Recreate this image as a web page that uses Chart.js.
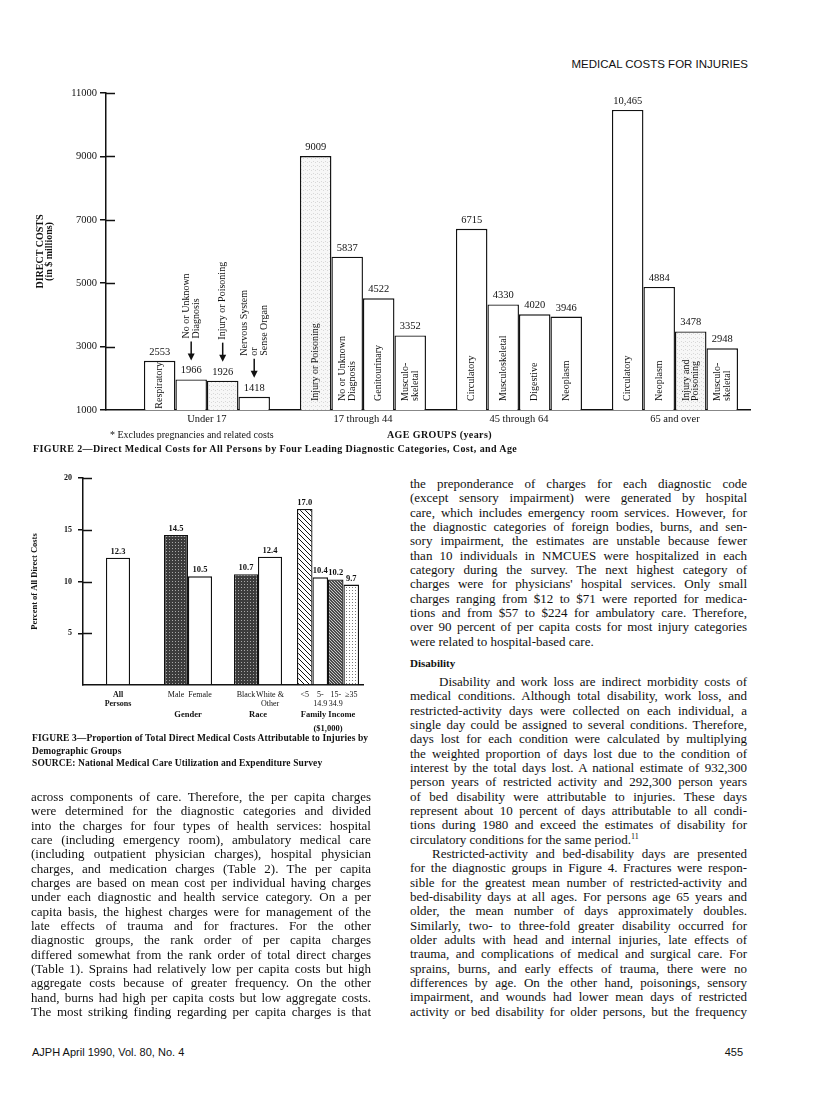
<!DOCTYPE html>
<html>
<head>
<meta charset="utf-8">
<title>Medical Costs for Injuries</title>
<script src="https://cdn.jsdelivr.net/npm/chart.js@4.4.1/dist/chart.umd.min.js"></script>
<style>
    body { margin: 0; width: 816px; height: 1116px; position: relative; overflow: hidden; background: #fff; color: #111; font-family: "Liberation Serif", "Times New Roman", serif; }
    canvas { position: absolute; }
    .abs { position: absolute; white-space: nowrap; }
    .sans { font-family: "Liberation Sans", Arial, sans-serif; }
    .col { position: absolute; font-size: 13px; line-height: 14.33px; }
    .col div { text-align: justify; text-align-last: justify; }
    .col div.end { text-align-last: left; }
    .cap { font-weight: bold; font-size: 9.5px; line-height: 12.5px; letter-spacing: 0.1px; }
    sup { font-size: 8px; line-height: 0; }
</style>
</head>
<body>

<div class="abs sans" style="right:68px; top:58px; font-size:11.5px;">MEDICAL COSTS FOR INJURIES</div>

<canvas id="fig2" width="780" height="380" style="left:0; top:60px; width:780px; height:380px;"></canvas>

<div class="abs" style="left:110px; top:429px; font-size:10px;">* Excludes pregnancies and related costs</div>
<div class="abs" style="left:387px; top:429px; font-size:10px; font-weight:bold; letter-spacing:0.4px;">AGE GROUPS (years)</div>
<div class="abs" style="left:33px; top:443px; font-size:10px; font-weight:bold; letter-spacing:0.4px;">FIGURE 2—Direct Medical Costs for All Persons by Four Leading Diagnostic Categories, Cost, and Age</div>

<canvas id="fig3" width="380" height="280" style="left:0; top:460px; width:380px; height:280px;"></canvas>

<div class="abs cap" style="left:32px; top:732px;">
    FIGURE 3—Proportion of Total Direct Medical Costs Attributable to Injuries by<br>
    Demographic Groups<br>
    SOURCE: National Medical Care Utilization and Expenditure Survey
</div>

<!-- left column -->
<div class="col" style="left:31px; top:790px; width:340px;">
    <div>across components of care. Therefore, the per capita charges</div>
    <div>were determined for the diagnostic categories and divided</div>
    <div>into the charges for four types of health services: hospital</div>
    <div>care (including emergency room), ambulatory medical care</div>
    <div>(including outpatient physician charges), hospital physician</div>
    <div>charges, and medication charges (Table 2). The per capita</div>
    <div>charges are based on mean cost per individual having charges</div>
    <div>under each diagnostic and health service category. On a per</div>
    <div>capita basis, the highest charges were for management of the</div>
    <div>late effects of trauma and for fractures. For the other</div>
    <div>diagnostic groups, the rank order of per capita charges</div>
    <div>differed somewhat from the rank order of total direct charges</div>
    <div>(Table 1). Sprains had relatively low per capita costs but high</div>
    <div>aggregate costs because of greater frequency. On the other</div>
    <div>hand, burns had high per capita costs but low aggregate costs.</div>
    <div>The most striking finding regarding per capita charges is that</div>
</div>

<!-- right column -->
<div class="col" style="left:410px; top:477px; width:337px;">
    <div>the preponderance of charges for each diagnostic code</div>
    <div>(except sensory impairment) were generated by hospital</div>
    <div>care, which includes emergency room services. However, for</div>
    <div>the diagnostic categories of foreign bodies, burns, and sen-</div>
    <div>sory impairment, the estimates are unstable because fewer</div>
    <div>than 10 individuals in NMCUES were hospitalized in each</div>
    <div>category during the survey. The next highest category of</div>
    <div>charges were for physicians' hospital services. Only small</div>
    <div>charges ranging from $12 to $71 were reported for medica-</div>
    <div>tions and from $57 to $224 for ambulatory care. Therefore,</div>
    <div>over 90 percent of per capita costs for most injury categories</div>
    <div class="end">were related to hospital-based care.</div>
</div>

<div class="abs" style="left:410px; top:657px; font-size:11px; font-weight:bold;">Disability</div>

<div class="col" style="left:410px; top:675px; width:337px;">
    <div style="text-indent:29px;">Disability and work loss are indirect morbidity costs of</div>
    <div>medical conditions. Although total disability, work loss, and</div>
    <div>restricted-activity days were collected on each individual, a</div>
    <div>single day could be assigned to several conditions. Therefore,</div>
    <div>days lost for each condition were calculated by multiplying</div>
    <div>the weighted proportion of days lost due to the condition of</div>
    <div>interest by the total days lost. A national estimate of 932,300</div>
    <div>person years of restricted activity and 292,300 person years</div>
    <div>of bed disability were attributable to injuries. These days</div>
    <div>represent about 10 percent of days attributable to all condi-</div>
    <div>tions during 1980 and exceed the estimates of disability for</div>
    <div class="end">circulatory conditions for the same period.<sup>11</sup></div>
    <div style="text-indent:22px;">Restricted-activity and bed-disability days are presented</div>
    <div>for the diagnostic groups in Figure 4. Fractures were respon-</div>
    <div>sible for the greatest mean number of restricted-activity and</div>
    <div>bed-disability days at all ages. For persons age 65 years and</div>
    <div>older, the mean number of days approximately doubles.</div>
    <div>Similarly, two- to three-fold greater disability occurred for</div>
    <div>older adults with head and internal injuries, late effects of</div>
    <div>trauma, and complications of medical and surgical care. For</div>
    <div>sprains, burns, and early effects of trauma, there were no</div>
    <div>differences by age. On the other hand, poisonings, sensory</div>
    <div>impairment, and wounds had lower mean days of restricted</div>
    <div>activity or bed disability for older persons, but the frequency</div>
</div>

<div class="abs sans" style="left:32px; top:1046px; font-size:11px;">AJPH April 1990, Vol. 80, No. 4</div>
<div class="abs sans" style="right:73px; top:1046px; font-size:11px;">455</div>

<script>
// Figure 2 - direct costs (in $ millions) by age group, four leading diagnoses
const ageGroups = ['Under 17', '17 through 44', '45 through 64', '65 and over'];
const costUnder17 = [2553, 1966, 1926, 1418];
const cost17to44 = [9009, 5837, 4522, 3352];
const cost45to64 = [6715, 4330, 4020, 3946];
const cost65plus = [10465, 4884, 3478, 2948];
const dxUnder17 = ['Respiratory', ['No or Unknown', 'Diagnosis'], 'Injury or Poisoning', ['Nervous System', 'or', 'Sense Organ']];
const dx17to44 = ['Injury or Poisoning', ['No or Unknown', 'Diagnosis'], 'Genitourinary', ['Musculo-', 'skeletal']];
const dx45to64 = ['Circulatory', 'Musculoskeletal', 'Digestive', 'Neoplasm'];
const dx65plus = ['Circulatory', 'Neoplasm', ['Injury and', 'Poisoning'], ['Musculo-', 'skeletal']];
const costTicks = [1000, 3000, 5000, 7000, 9000, 11000];

// Figure 3 - percent of all direct costs attributable to injuries
const demoGroups = ['', 'Gender', 'Race', ['Family Income', '($1,000)']];
const allPersonsLabels = [['All', 'Persons']];
const allPersonsValues = [12.3];
const genderLabels = ['Male', 'Female'];
const genderValues = [14.5, 10.5];
const raceLabels = ['Black', ['White &', 'Other']];
const raceValues = [10.7, 12.4];
const incomeLabels = ['<5', ['5-', '14.9'], ['15-', '34.9'], '≥35'];
const incomeValues = [17.0, 10.4, 10.2, 9.7];
const percentTicks = [0, 5, 10, 15, 20];

const SERIF = '"Liberation Serif", "Times New Roman", serif';
const INK = '#111';
Chart.defaults.font.family = SERIF;
Chart.defaults.color = INK;

const costs = [costUnder17, cost17to44, cost45to64, cost65plus];
const diagnoses = [dxUnder17, dx17to44, dx45to64, dx65plus];

function makePattern(size, draw) {
    const c = document.createElement('canvas');
    c.width = c.height = size;
    const x = c.getContext('2d');
    draw(x, size);
    return x.createPattern(c, 'repeat');
}

const stipple = makePattern(4, (x, s) => {
    x.fillStyle = '#f7f7f7'; x.fillRect(0, 0, s, s);
    x.fillStyle = '#d8d8d8'; x.fillRect(1, 1, 1, 1); x.fillRect(3, 2, 1, 1);
});
const darkCross = makePattern(3, (x, s) => {
    x.fillStyle = '#3c3c3c'; x.fillRect(0, 0, s, s);
    x.fillStyle = '#a8a8a8'; x.fillRect(1, 1, 1, 1);
});
const openHatch = makePattern(5, (x, s) => {
    x.fillStyle = '#fff'; x.fillRect(0, 0, s, s);
    x.fillStyle = '#111';
    for (let i = 0; i < s; i++) x.fillRect(i, i, 1, 1);
});
const denseHatch = makePattern(3, (x, s) => {
    x.fillStyle = '#4a4a4a'; x.fillRect(0, 0, s, s);
    x.fillStyle = '#c8c8c8';
    for (let i = 0; i < s; i++) x.fillRect(i, i, 1, 1);
});
const lightDots = makePattern(3, (x, s) => {
    x.fillStyle = '#fff'; x.fillRect(0, 0, s, s);
    x.fillStyle = '#777'; x.fillRect(1, 1, 1, 1);
});

// short tick marks that cross into the plot, like the printed axes
const innerTicks = {
    id: 'innerTicks',
    afterDatasetsDraw(chart, args, opts) {
        const y = chart.scales.y, area = chart.chartArea, ctx = chart.ctx;
        ctx.save();
        ctx.strokeStyle = INK;
        ctx.lineWidth = 1.5;
        y.ticks.forEach(t => {
            if (t.value === y.min) return;
            const py = Math.round(y.getPixelForValue(t.value)) + 0.5;
            ctx.beginPath();
            ctx.moveTo(area.left, py);
            ctx.lineTo(area.left + opts.length, py);
            ctx.stroke();
        });
        ctx.restore();
    }
};

function drawRotated(ctx, lines, x, y, lh) {
    ctx.save();
    ctx.translate(x, y);
    ctx.rotate(-Math.PI / 2);
    ctx.textAlign = 'left';
    ctx.textBaseline = 'middle';
    lines.forEach((l, i) => ctx.fillText(l, 0, (i - (lines.length - 1) / 2) * lh));
    ctx.restore();
}

// value on top of each bar, diagnosis written up the bar (or above it with an arrow)
const costNotes = {
    id: 'costNotes',
    afterDatasetsDraw(chart) {
        const ctx = chart.ctx;
        const floor = chart.chartArea.bottom;
        ctx.save();
        ctx.fillStyle = INK;
        ctx.strokeStyle = INK;
        chart.data.datasets.forEach((ds, rank) => {
            chart.getDatasetMeta(rank).data.forEach((bar, g) => {
                const value = costs[g][rank];
                const lines = [].concat(diagnoses[g][rank]);
                ctx.font = '10.5px ' + SERIF;
                ctx.textAlign = 'center';
                ctx.textBaseline = 'alphabetic';
                ctx.fillText(value >= 10000 ? value.toLocaleString('en-US') : String(value), bar.x, bar.y - 6);

                ctx.font = '10px ' + SERIF;
                const w = Math.max(...lines.map(l => ctx.measureText(l).width));
                const base = Math.min(bar.base, floor);
                const h = base - bar.y;
                if (w + 1 < h) {
                    drawRotated(ctx, lines, bar.x, base - Math.min(9, (h - w) / 2), 9.5);
                } else {
                    const tip = bar.y - 19;
                    const top = tip - 19;
                    ctx.lineWidth = 1.5;
                    ctx.beginPath();
                    ctx.moveTo(bar.x, top);
                    ctx.lineTo(bar.x, tip - 5);
                    ctx.stroke();
                    ctx.beginPath();
                    ctx.moveTo(bar.x, tip);
                    ctx.lineTo(bar.x - 3.5, tip - 7);
                    ctx.lineTo(bar.x + 3.5, tip - 7);
                    ctx.closePath();
                    ctx.fill();
                    drawRotated(ctx, lines, bar.x, top - 3, 10);
                }
            });
        });
        ctx.restore();
    }
};

const isInjury = name => [].concat(name).join(' ').indexOf('Injury') === 0;

new Chart(document.getElementById('fig2'), {
    type: 'bar',
    data: {
        datasets: [0, 1, 2, 3].map(rank => ({
            label: 'Rank ' + (rank + 1),
            data: costs.map((c, g) => ({ x: g, y: c[rank] })),
            backgroundColor: ctx => isInjury(diagnoses[ctx.dataIndex][rank]) ? stipple : '#fff',
            borderColor: INK,
            borderWidth: 1.4,
            categoryPercentage: 0.808,
            barPercentage: 1
        }))
    },
    options: {
        responsive: false,
        animation: false,
        layout: { padding: { top: 33, right: 30, left: 0, bottom: 0 } },
        plugins: {
            legend: { display: false },
            tooltip: { enabled: false },
            innerTicks: { length: 9 }
        },
        scales: {
            x: {
                type: 'linear',
                offset: false,
                min: -0.647,
                max: 3.481,
                afterBuildTicks: s => { s.ticks = ageGroups.map((_, i) => ({ value: i })); },
                ticks: { callback: v => ageGroups[v], font: { size: 10.5 }, padding: -5, maxRotation: 0, autoSkip: false },
                grid: { display: false, offset: false },
                border: { color: INK, width: 1.5 },
                afterFit: s => { s.height = 30; }
            },
            y: {
                min: 1000,
                max: 11000,
                afterBuildTicks: s => { s.ticks = costTicks.map(v => ({ value: v })); },
                ticks: { callback: v => String(v), font: { size: 10.5 }, padding: 3 },
                grid: { drawOnChartArea: false, tickLength: 6, color: INK, lineWidth: 1.5 },
                border: { color: INK, width: 1.5 },
                title: {
                    display: true,
                    text: ['DIRECT COSTS', '(in $ millions)'],
                    font: { size: 10, weight: 'bold', lineHeight: 0.9 },
                    padding: { top: 35.5, bottom: 0 }
                },
                afterFit: s => { s.width = 106; }
            }
        }
    },
    plugins: [innerTicks, costNotes]
});

// Figure 3: one dataset per bar, each living only in its own group
const fig3Groups = [
    { labels: allPersonsLabels, values: allPersonsValues, fills: ['#fff'], share: 24 / 70 },
    { labels: genderLabels, values: genderValues, fills: [darkCross, '#fff'], share: 48 / 70 },
    { labels: raceLabels, values: raceValues, fills: [darkCross, '#fff'], share: 48 / 70 },
    { labels: incomeLabels, values: incomeValues, fills: [openHatch, '#fff', denseHatch, lightDots], share: 62 / 70 }
];

const fig3Sets = [];
fig3Groups.forEach((grp, g) => {
    grp.values.forEach((v, j) => {
        fig3Sets.push({
            label: [].concat(grp.labels[j]).join(' '),
            group: g,
            barLabel: [].concat(grp.labels[j]),
            data: demoGroups.map((_, k) => (k === g ? v : null)),
            backgroundColor: grp.fills[j],
            borderColor: INK,
            borderWidth: 1.3,
            categoryPercentage: grp.share,
            barPercentage: 1,
            skipNull: true
        });
    });
});

const demoNotes = {
    id: 'demoNotes',
    afterDatasetsDraw(chart) {
        const ctx = chart.ctx;
        ctx.save();
        ctx.fillStyle = INK;
        ctx.textAlign = 'center';
        chart.data.datasets.forEach((ds, i) => {
            const bar = chart.getDatasetMeta(i).data[ds.group];
            const value = ds.data[ds.group];
            ctx.font = 'bold 8.5px ' + SERIF;
            ctx.textBaseline = 'alphabetic';
            ctx.fillText(value.toFixed(1), bar.x, bar.y - 4);
            ctx.font = (demoGroups[ds.group] === '' ? 'bold ' : '') + '8px ' + SERIF;
            ctx.textBaseline = 'middle';
            ds.barLabel.forEach((l, k) => ctx.fillText(l, bar.x, bar.base + 11 + k * 8.5));
        });
        ctx.restore();
    }
};

new Chart(document.getElementById('fig3'), {
    type: 'bar',
    data: { labels: demoGroups, datasets: fig3Sets },
    options: {
        responsive: false,
        animation: false,
        layout: { padding: { top: 18, right: 17, left: 0, bottom: 0 } },
        plugins: {
            legend: { display: false },
            tooltip: { enabled: false },
            innerTicks: { length: 9 }
        },
        scales: {
            x: {
                ticks: { font: { size: 8.5, weight: 'bold', lineHeight: 1.6 }, padding: 15, maxRotation: 0, autoSkip: false },
                grid: { display: false },
                border: { color: INK, width: 1.5 },
                afterFit: s => { s.height = 55; }
            },
            y: {
                min: 0,
                max: 20,
                afterBuildTicks: s => { s.ticks = percentTicks.map(v => ({ value: v })); },
                ticks: { callback: v => (v === 0 ? '' : v), font: { size: 8, weight: 'bold' }, padding: 6 },
                grid: {
                    drawOnChartArea: false,
                    tickLength: 5,
                    lineWidth: 1.5,
                    color: ctx => (ctx.tick && ctx.tick.value === 0 ? 'rgba(0,0,0,0)' : INK)
                },
                border: { color: INK, width: 1.5 },
                title: {
                    display: true,
                    text: 'Percent of All Direct Costs',
                    font: { size: 8.5, weight: 'bold', lineHeight: 1.2 },
                    padding: { top: 30, bottom: 0 }
                },
                afterFit: s => { s.width = 83; }
            }
        }
    },
    plugins: [innerTicks, demoNotes]
});
</script>
</body>
</html>
